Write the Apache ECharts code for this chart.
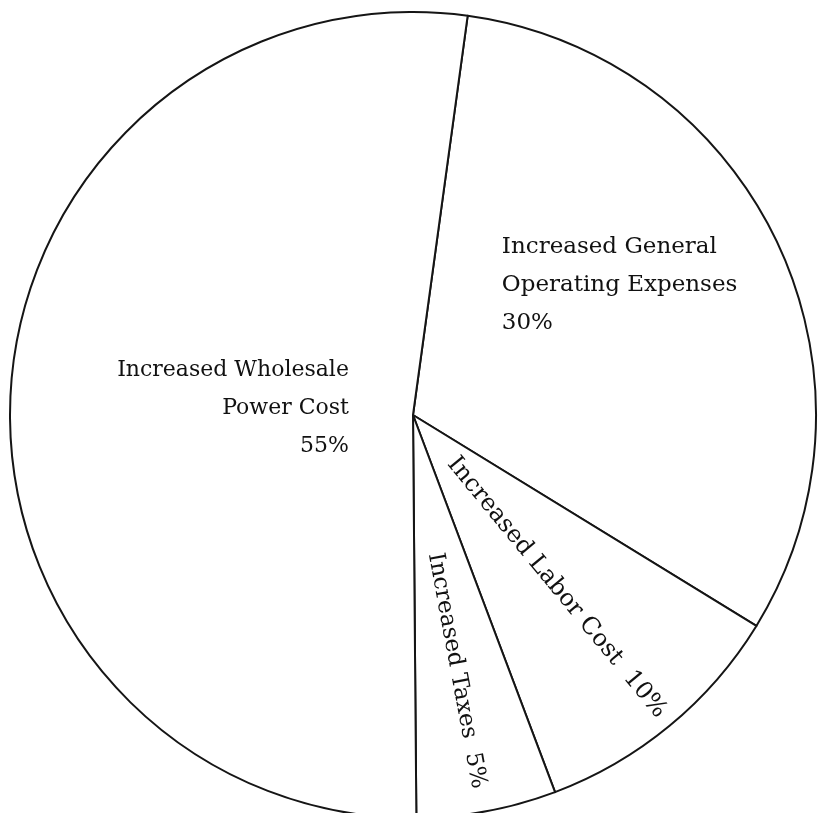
<!DOCTYPE html>
<html>
<head>
<meta charset="utf-8">
<script src="https://cdn.jsdelivr.net/npm/echarts@6/dist/echarts.min.js"></script>
<style>
html, body { margin: 0; padding: 0; background: #fff; }
#chart { width: 819px; height: 813px; }
</style>
</head>
<body>
<div id="chart"></div>
<script>
// slices in clockwise order, starting from the line just right of top
var categories = ['Increased General\nOperating Expenses', 'Increased Labor Cost', 'Increased Taxes', 'Increased Wholesale\nPower Cost'];
var percentLabels = ['30%', '10%', '5%', '55%'];
// share of the circle each slice covers, as measured on the drawing
var sliceShares = [31.6, 10.5, 5.6, 52.3];

// label placement, offset from the default inside position
// (for the radial labels dx runs along the text, dy across it)
var labelPlace = [
    {dx: -96, dy: -43, align: 'left'},
    {dx: 20, dy: -1},
    {dx: 55, dy: 4},
    {dx: 140, dy: 6, align: 'right'}
];
var radialLabel = [false, true, true, false];
var labelSize = [23, 24, 23, 22];

var chart = echarts.init(document.getElementById('chart'));

var data = categories.map(function (name, i) {
    var item = {name: name, value: sliceShares[i]};
    if (radialLabel[i]) {
	item.label = {rotate: 'radial', fontSize: labelSize[i], formatter: name + '  ' + percentLabels[i]};
    } else {
	item.label = {fontSize: labelSize[i], formatter: name + '\n' + percentLabels[i]};
    }
    return item;
});

chart.setOption({
    animation: false,
    series: [{
	type: 'pie',
	center: [413, 415],
	radius: 403,
	startAngle: 82.2,
	clockwise: true,
	avoidLabelOverlap: false,
	silent: true,
	itemStyle: {
	    color: '#ffffff',
	    borderColor: '#151515',
	    borderWidth: 2
	},
	label: {
	    position: 'inside',
	    fontFamily: 'DejaVu Serif',
	    fontSize: 23,
	    lineHeight: 38,
	    color: '#111111'
	},
	labelLine: {show: false},
	labelLayout: function (params) {
	    return labelPlace[params.dataIndex];
	},
	data: data
    }]
});
</script>
</body>
</html>
